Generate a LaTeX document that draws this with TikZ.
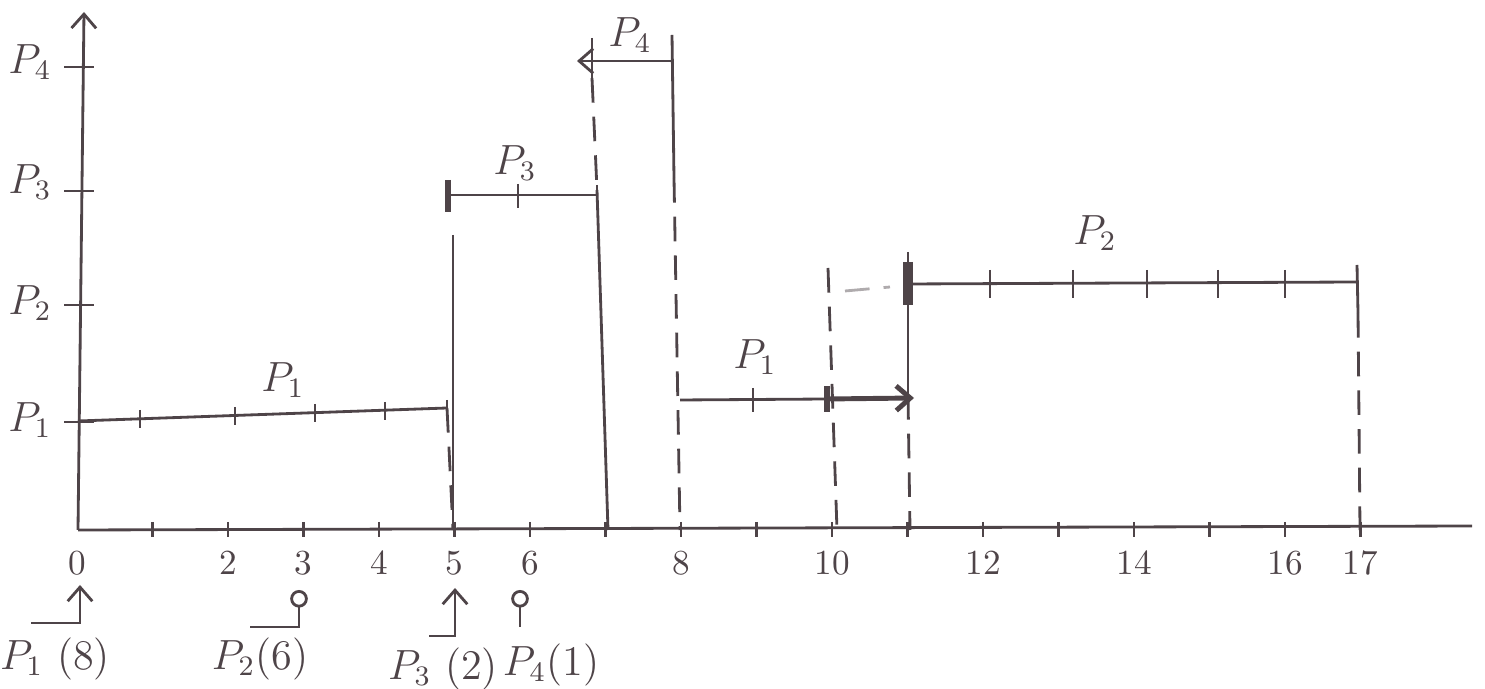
\documentclass[tikz,border=0pt]{standalone}
\usetikzlibrary{arrows.meta}
\definecolor{pen}{RGB}{78,68,72}
\begin{document}
\begin{tikzpicture}[x=0.01cm,y=-0.01cm,line width=0.8pt,color=pen,
  guide/.style={dash pattern=on 7pt off 4pt},
  lbl/.style={font=\large},
  num/.style={font=\normalsize},
  tip/.style={-{Straight Barb[length=4pt,width=7pt]}},
  ring/.style={-{Circle[open,length=5pt]}}]
\useasboundingbox (0,0) rectangle (1485,689);
% coordinates
\coordinate (origin) at (  78,530);
\coordinate (xaxis)  at (1472,526);
\coordinate (yaxis)  at (  84, 12);
\coordinate (P1a)    at (  78,421);
\coordinate (P1b)    at ( 447,408);
\coordinate (P3a)    at ( 448,195);
\coordinate (P3b)    at ( 597,195);
\coordinate (P4a)    at ( 577, 61);
\coordinate (P4b)    at ( 672, 61);
\coordinate (P1c)    at ( 680,400);
\coordinate (P1d)    at ( 827,399);
\coordinate (P1e)    at ( 914,398);
\coordinate (P2a)    at ( 908,284);
\coordinate (P2b)    at (1357,282);
% axes
\draw (origin) -- (xaxis);
\draw[tip] (origin) -- (yaxis);
\foreach \name/\y/\ly/\lab in {yP4/67/62/4, yP3/191/182/3, yP2/305/303/2, yP1/422/420/1} {
  \draw (64,\y) -- (94,\y);
  \node[lbl] (\name) at (30,\ly) {$P_{\lab}$};
}
\foreach \i in {1,...,17} \draw (77+75.5*\i,522) -- (77+75.5*\i,537);
\foreach \i in {0,2,3,4,5,6,8,10,12,14,16,17} \node[num] (n\i) at (77+75.5*\i,563) {\i};
% first P1 run
\draw (P1a) -- (P1b);
\foreach \x/\y in {140/419,235/416,315/413,385/411} \draw (\x,\y-9) -- (\x,\y+9);
\draw (P1b) ++(0,-8) -- ++(0,16);
\draw[guide] (P1b) -- (453,530);
\node[lbl] (tP1a) at (283,380) {$P_1$};
% P3 run
\draw (P3a) -- (P3b);
\draw[line width=1.6pt] (448,180) -- (448,212);
\draw (518,184) -- (518,208);
\draw (597,185) -- (597,205);
\draw (453,235) -- (453,530);
\node[lbl] (tP3) at (515,163) {$P_3$};
% P4 run
\draw[tip] (P4b) -- (P4a);
\draw (592,38) -- (592,78);
\draw[guide] (592,78) -- (597,190);
\draw (597,190) -- (608,530);
\draw (672,35) -- (674,178);
\draw[guide] (674,178) -- (680,530);
\node[lbl] (tP4) at (630,35) {$P_4$};
% second P1 run
\draw (P1c) -- (P1d);
\draw (753,388) -- (753,412);
\draw[line width=1.6pt] (P1d) ++(0,-13) -- ++(0,26);
\draw[tip,line width=1.4pt] (P1d) -- (P1e);
\draw[guide] (828,268) -- (837,530);
\node[lbl] (tP1b) at (755,357) {$P_1$};
% P2 run
\draw[guide,pen!45] (845,291) -- (890,287);
\draw (908,252) -- (908,395);
\draw[guide] (908,395) -- (910,530);
\draw[line width=3pt] (908,262) -- (908,305);
\draw (P2a) -- (P2b);
\foreach \x in {990,1073,1147,1218,1285} \draw (\x,270) -- (\x,298);
\draw (1357,265) -- (1358,313);
\draw[guide] (1358,313) -- (1360,530);
\node[lbl] (tP2) at (1095,233) {$P_2$};
% arrival pointers
\coordinate (a1s) at ( 31,623); \coordinate (a1e) at ( 80,585);
\coordinate (a2s) at (250,627); \coordinate (a2e) at (299,590);
\coordinate (a3s) at (429,636); \coordinate (a3e) at (455,588);
\coordinate (a4s) at (520,627); \coordinate (a4e) at (520,590);
\draw[tip]  (a1s) -| (a1e);
\draw[ring] (a2s) -| (a2e);
\draw[tip]  (a3s) -| (a3e);
\draw[ring] (a4s) -- (a4e);
\node[lbl] (arr1) at ( 55,659) {$P_1$ (8)};
\node[lbl] (arr2) at (260,659) {$P_2$(6)};
\node[lbl] (arr3) at (443,669) {$P_3$ (2)};
\node[lbl] (arr4) at (551,665) {$P_4$(1)};
\end{tikzpicture}
\end{document}
